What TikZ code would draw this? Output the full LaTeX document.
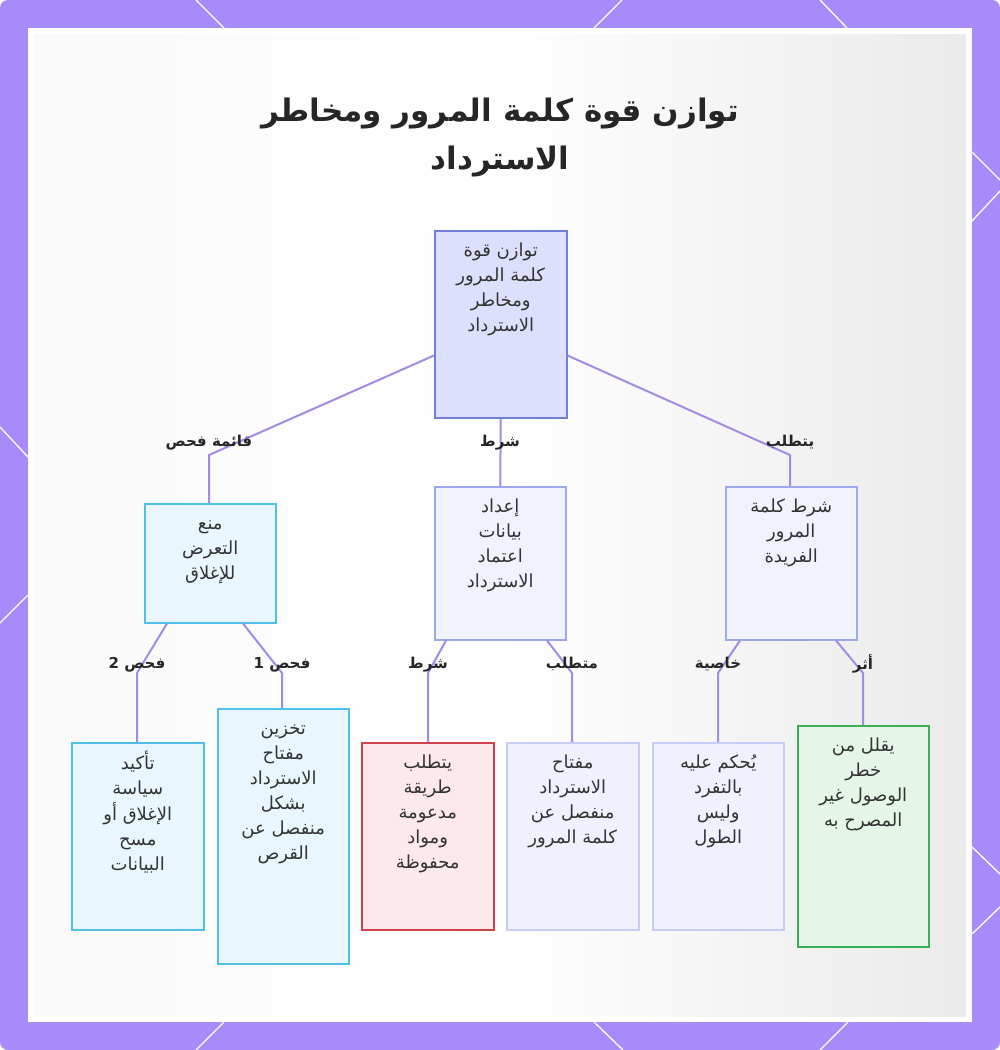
\documentclass[tikz,border=0pt]{standalone}
\usepackage{fontspec}
\setmainfont{DejaVu Sans}
\newfontfamily\ar[Script=Arabic]{DejaVu Sans}
\TeXXeTstate=1
\newcommand{\rl}[1]{\strut\beginR #1\endR}
\newcommand{\bx}[3]{\parbox[t][#2][t]{#1}{\centering\vspace*{8pt}#3\par}}
\definecolor{purp}{HTML}{A78BFA}
\definecolor{edgec}{HTML}{A48BE6}
\definecolor{txt}{HTML}{333333}
\definecolor{rootf}{HTML}{DDE0FC}
\definecolor{rootd}{HTML}{6E7FD9}
\definecolor{midf}{HTML}{F0F3FE}
\definecolor{midd}{HTML}{9DAAEA}
\definecolor{lavf}{HTML}{EFF1FE}
\definecolor{lavd}{HTML}{C7CDF4}
\definecolor{cyf}{HTML}{E9F6FD}
\definecolor{cyd}{HTML}{4FC0E8}
\definecolor{redf}{HTML}{FDE9EC}
\definecolor{redd}{HTML}{D2414E}
\definecolor{grf}{HTML}{E5F5E8}
\definecolor{grd}{HTML}{3DAE58}
\tikzset{
  box/.style={draw, line width=1.5pt, inner sep=0pt, anchor=north west, text=txt,
    font=\ar\fontsize{18}{25}\selectfont},
  rootbox/.style={box, fill=rootf, draw=rootd},
  midbox/.style={box, fill=midf, draw=midd},
  lavbox/.style={box, fill=lavf, draw=lavd},
  cybox/.style={box, fill=cyf, draw=cyd},
  redbox/.style={box, fill=redf, draw=redd},
  grbox/.style={box, fill=grf, draw=grd},
  edge/.style={draw=edgec, line width=2pt},
  elabel/.style={text=black!85, font=\ar\bfseries\fontsize{15}{17}\selectfont, inner sep=0pt},
  deco/.style={draw=white, line width=1.3pt},
}
\begin{document}
\begin{tikzpicture}[x=1pt,y=-1pt]
\useasboundingbox (0,0) rectangle (1000,1050);
% background
\fill[purp, rounded corners=8pt] (0,0) rectangle (1000,1050);
\fill[white] (28,28) rectangle (972,1022);
\shade[left color=white!96!gray, right color=black!8, middle color=white] (34,34) rectangle (966,1016);
% decorative border lines
\draw[deco] (196,0) -- (224,28);
\draw[deco] (622,0) -- (594,28);
\draw[deco] (820,0) -- (847,28);
\draw[deco] (196,1050) -- (224,1022);
\draw[deco] (623,1050) -- (594,1022);
\draw[deco] (820,1050) -- (848,1022);
\draw[deco] (0,427) -- (28,457);
\draw[deco] (0,623) -- (28,595);
\draw[deco] (972,152) -- (1000,180);
\draw[deco] (972,221) -- (1000,191);
\draw[deco] (972,847) -- (1000,874);
\draw[deco] (972,934) -- (1000,907);
% title
\node[text=black!85, font=\ar\bfseries\fontsize{31}{48}\selectfont, align=center] (title) at (500,136)
  {\rl{توازن قوة كلمة المرور ومخاطر}\\\rl{الاسترداد}};
% nodes
\node[rootbox] (root) at (434,230) {\bx{132pt}{187pt}{\rl{توازن قوة}\\\rl{كلمة المرور}\\\rl{ومخاطر}\\\rl{الاسترداد}}};
\node[cybox] (lm) at (144,503) {\bx{131pt}{119pt}{\rl{منع}\\\rl{التعرض}\\\rl{للإغلاق}}};
\node[midbox] (mm) at (434,486) {\bx{131pt}{153pt}{\rl{إعداد}\\\rl{بيانات}\\\rl{اعتماد}\\\rl{الاسترداد}}};
\node[midbox] (rm) at (725,486) {\bx{131pt}{153pt}{\rl{شرط كلمة}\\\rl{المرور}\\\rl{الفريدة}}};
\node[cybox] (l1) at (71,742) {\bx{132pt}{187pt}{\rl{تأكيد}\\\rl{سياسة}\\\rl{الإغلاق أو}\\\rl{مسح}\\\rl{البيانات}}};
\node[cybox] (l2) at (217,708) {\bx{131pt}{255pt}{\rl{تخزين}\\\rl{مفتاح}\\\rl{الاسترداد}\\\rl{بشكل}\\\rl{منفصل عن}\\\rl{القرص}}};
\node[redbox] (l3) at (361,742) {\bx{132pt}{187pt}{\rl{يتطلب}\\\rl{طريقة}\\\rl{مدعومة}\\\rl{ومواد}\\\rl{محفوظة}}};
\node[lavbox] (l4) at (506,742) {\bx{132pt}{187pt}{\rl{مفتاح}\\\rl{الاسترداد}\\\rl{منفصل عن}\\\rl{كلمة المرور}}};
\node[lavbox] (l5) at (652,742) {\bx{131pt}{187pt}{\rl{يُحكم عليه}\\\rl{بالتفرد}\\\rl{وليس}\\\rl{الطول}}};
\node[grbox] (l6) at (797,725) {\bx{131pt}{221pt}{\rl{يقلل من}\\\rl{خطر}\\\rl{الوصول غير}\\\rl{المصرح به}}};
% bend coordinates
\coordinate (b1) at (209,455);
\coordinate (b2) at (500,455);
\coordinate (b3) at (790,455);
\coordinate (c1) at (137,673);
\coordinate (c2) at (282,673);
\coordinate (c3) at (428,673);
\coordinate (c4) at (572,673);
\coordinate (c5) at (718,673);
\coordinate (c6) at (863,673);
% edges
\draw[edge] ([yshift=63pt]root.south west) -- (b1) -- (b1 |- lm.north);
\draw[edge] (root.south) -- (mm.north);
\draw[edge] ([yshift=63pt]root.south east) -- (b3) -- (b3 |- rm.north);
\draw[edge] ([xshift=23pt]lm.south west) -- (c1) -- (c1 |- l1.north);
\draw[edge] ([xshift=99pt]lm.south west) -- (c2) -- (c2 |- l2.north);
\draw[edge] ([xshift=12pt]mm.south west) -- (c3) -- (c3 |- l3.north);
\draw[edge] ([xshift=113pt]mm.south west) -- (c4) -- (c4 |- l4.north);
\draw[edge] ([xshift=15pt]rm.south west) -- (c5) -- (c5 |- l5.north);
\draw[edge] ([xshift=111pt]rm.south west) -- (c6) -- (c6 |- l6.north);
% edge labels
\node[elabel] (t1) at (209,443) {\rl{قائمة فحص}};
\node[elabel] (t2) at (500,443) {\rl{شرط}};
\node[elabel] (t3) at (790,443) {\rl{يتطلب}};
\node[elabel] (t4) at (137,665) {\rl{فحص 2}};
\node[elabel] (t5) at (282,665) {\rl{فحص 1}};
\node[elabel] (t6) at (428,665) {\rl{شرط}};
\node[elabel] (t7) at (572,665) {\rl{متطلب}};
\node[elabel] (t8) at (718,665) {\rl{خاصية}};
\node[elabel] (t9) at (863,665) {\rl{أثر}};
\end{tikzpicture}
\end{document}
